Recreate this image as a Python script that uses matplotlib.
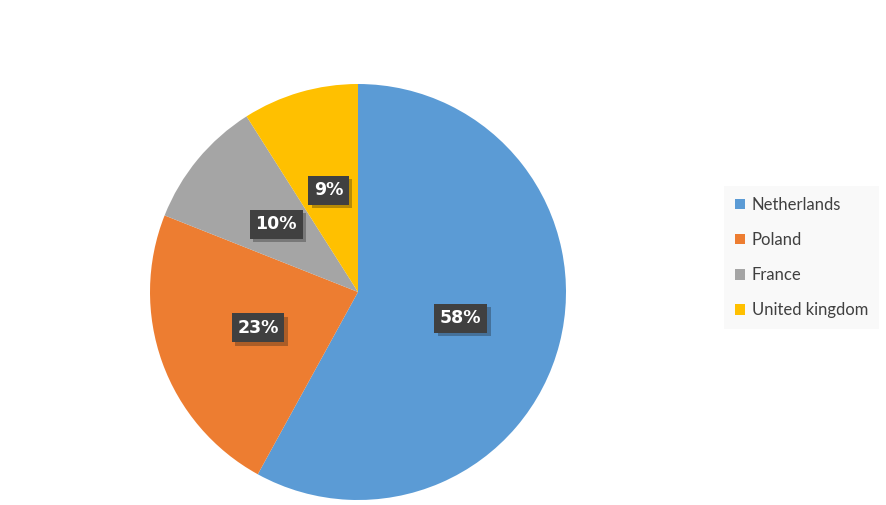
import matplotlib.pyplot as plt
import matplotlib.patheffects as pe

countries = ['Netherlands', 'Poland', 'France', 'United kingdom']
shares = [58, 23, 10, 9]
colors = ['#5B9BD5', '#ED7D31', '#A5A5A5', '#FFC000']

plt.rcParams['font.family'] = ['Lato', 'DejaVu Sans']

fig = plt.figure(figsize=(8.86, 5.05), dpi=100)
ax = fig.add_axes([150/886, 5/505, 416/886, 416/505])

wedges, texts, autotexts = ax.pie(shares, colors=colors, startangle=90, counterclock=False,
                                  autopct='%d%%', pctdistance=0.51, radius=1,
                                  wedgeprops=dict(linewidth=0))
for t in autotexts:
    t.set_color('white')
    t.set_family(['DejaVu Sans'])
    t.set_fontweight('bold')
    t.set_fontsize(12.5)
    t.set_bbox(dict(boxstyle='square,pad=0.32', facecolor='#404040', edgecolor='none'))
    t.get_bbox_patch().set_path_effects([pe.SimplePatchShadow(offset=(2.5, -2.5), alpha=0.3),
                                         pe.Normal()])
ax.set_xlim(-1, 1)
ax.set_ylim(-1, 1)
ax.set_aspect('equal')

leg = fig.legend(wedges, countries, loc='upper left',
                 bbox_to_anchor=(724/886, 1 - 186/505), bbox_transform=fig.transFigure,
                 borderaxespad=0, frameon=True, fancybox=False, fontsize=12,
                 handlelength=0.6, handleheight=0.6, handletextpad=0.4,
                 labelspacing=1.15, borderpad=0.65)
leg.get_frame().set_facecolor('#f8f8f8')
leg.get_frame().set_edgecolor('none')
for t in leg.get_texts():
    t.set_color('#404040')

fig.savefig('out.png', dpi=100)
